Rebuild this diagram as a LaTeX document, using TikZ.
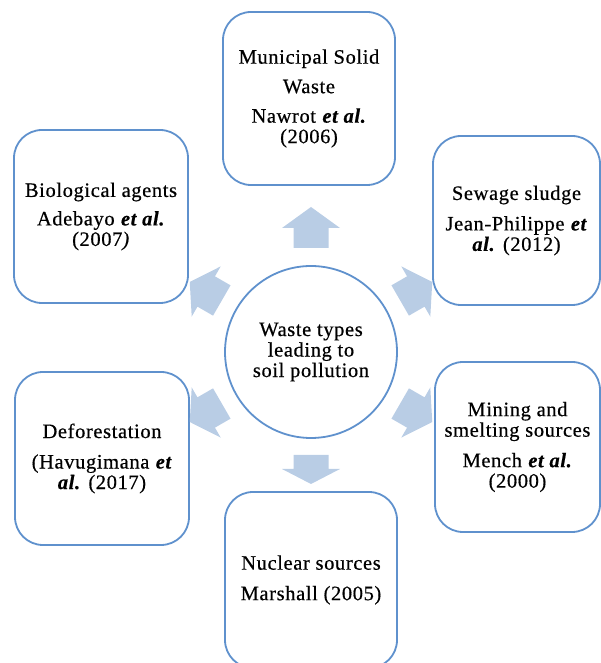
\documentclass[tikz,border=0pt]{standalone}
\usepackage{fontspec}
\setmainfont{Liberation Serif}
\definecolor{boxline}{RGB}{95,145,205}
\definecolor{arrowfill}{RGB}{185,205,229}
\newcommand{\radialarrow}[4]{% angle, base, head base, tip
  \fill[arrowfill, shift={(c.center)}, rotate=#1]
    (#2,-17.5) -- (#3,-17.5) -- (#3,-29) -- (#4,0) -- (#3,29) -- (#3,17.5) -- (#2,17.5) -- cycle;}
\newcommand{\etal}{\textbf{\textit{et al.}}}
\newcommand{\refont}{\fontsize{20.5}{20.5}\selectfont\addfontfeatures{LetterSpace=3,FakeBold=0.5}}
\begin{document}
\begin{tikzpicture}[x=1pt,y=1pt,
  every node/.style={font=\refont, text=black, align=center, inner sep=0pt},
  srcbox/.style={draw=boxline, line width=1.8pt, rounded corners=28pt, fill=white},
  hub/.style={draw=boxline, line width=1.8pt, circle, minimum size=172pt, fill=white}]
\useasboundingbox (0,0) rectangle (601,663);
\node[hub] (c) at (311,311) {Waste types\\leading to\\soil pollution};
\node[srcbox, minimum width=172pt, minimum height=173pt] (msw) at (309,564.5)
  {Municipal Solid\\[9pt]Waste\\[9pt]Nawrot \etal\\(2006)};
\node[srcbox, minimum width=174pt, minimum height=173pt] (bio) at (101,446.5)
  {Biological agents\\[8pt]Adebayo \etal\\(2007\textit{)}};
\node[srcbox, minimum width=167pt, minimum height=169pt] (sew) at (516.5,442.5)
  {Sewage sludge\\[10pt]Jean-Philippe \textbf{\textit{et}}\\\textbf{\textit{al.}} (2012)};
\node[srcbox, minimum width=174pt, minimum height=173pt] (def) at (102,204.5)
  {Deforestation\\[10pt](Havugimana \textbf{\textit{et}}\\\textbf{\textit{al.}} (2017)};
\node[srcbox, minimum width=165pt, minimum height=170pt] (min) at (517.5,216)
  {Mining and\\smelting sources\\[10pt]Mench \etal\\(2000)};
\node[srcbox, minimum width=172pt, minimum height=176pt] (nuc) at (311,83)
  {Nuclear sources\\[10pt]Marshall (2005)};
\radialarrow{90}{104}{124}{145}
\radialarrow{270}{103}{117}{132}
\radialarrow{150}{103}{121}{140}
\radialarrow{30}{103}{121}{140}
\radialarrow{210}{103}{121}{140}
\radialarrow{330}{103}{121}{140}
\end{tikzpicture}
\end{document}
